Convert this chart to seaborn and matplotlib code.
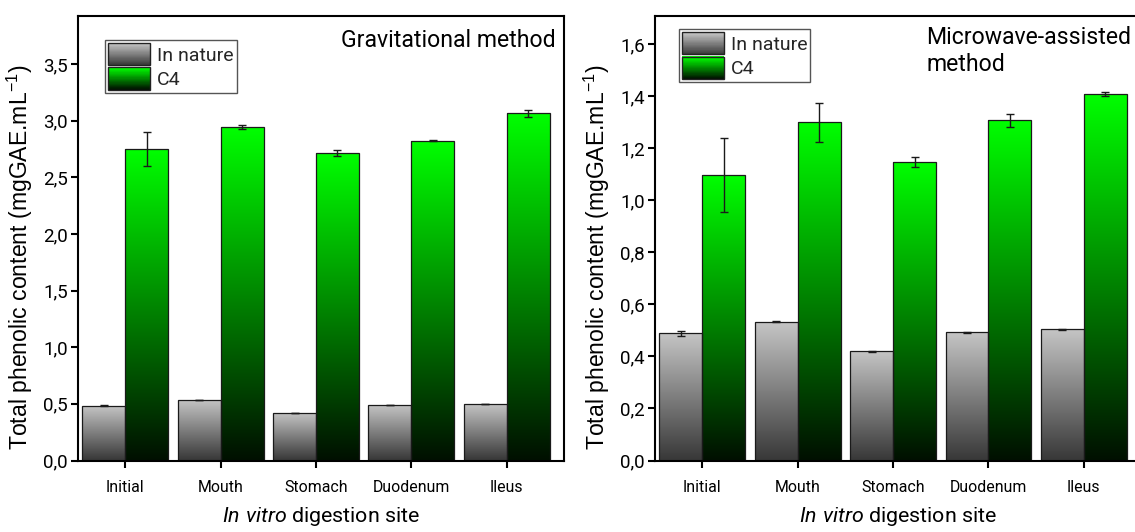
import numpy as np
import pandas as pd
import matplotlib
matplotlib.use("Agg")
import matplotlib.pyplot as plt
import seaborn as sns
from matplotlib.colors import LinearSegmentedColormap
from matplotlib.legend_handler import HandlerBase
from matplotlib.patches import Rectangle, Patch
from matplotlib.container import BarContainer
from matplotlib.ticker import FuncFormatter, MultipleLocator

# ---------------- data ----------------
sites = ["Initial", "Mouth", "Stomach", "Duodenum", "Ileus"]
groups = ["In nature", "C4"]

grav_nature = [0.485, 0.530, 0.419, 0.494, 0.500]
grav_nature_err = [0.006, 0.0, 0.0, 0.0, 0.0]
grav_c4 = [2.750, 2.945, 2.714, 2.822, 3.064]
grav_c4_err = [0.150, 0.020, 0.030, 0.006, 0.030]

mw_nature = [0.489, 0.533, 0.419, 0.493, 0.505]
mw_nature_err = [0.010, 0.002, 0.003, 0.002, 0.002]
mw_c4 = [1.098, 1.299, 1.147, 1.308, 1.410]
mw_c4_err = [0.143, 0.074, 0.020, 0.025, 0.008]

# ---------------- style ----------------
sns.set_theme(style="ticks")
NARROW = ["Roboto", "Liberation Sans", "DejaVu Sans"]
REGULAR = ["Liberation Sans", "DejaVu Sans"]
plt.rcParams["font.family"] = NARROW
plt.rcParams["mathtext.fontset"] = "custom"
plt.rcParams["mathtext.rm"] = "Liberation Sans"
plt.rcParams["mathtext.it"] = "Roboto:italic"
plt.rcParams["axes.linewidth"] = 1.5

cmap_gray = LinearSegmentedColormap.from_list("g", ["#383838", "#c6c6c6"])
cmap_green = LinearSegmentedColormap.from_list("gr", ["#001000", "#00ff00"])
CMAPS = [cmap_gray, cmap_green]


class GradHandler(HandlerBase):
    def __init__(self, cmap):
        super().__init__()
        self.cmap = cmap

    def create_artists(self, legend, orig_handle, xdescent, ydescent,
                       width, height, fontsize, trans):
        n = 40
        arts = []
        for i in range(n):
            r = Rectangle((-xdescent, -ydescent + height * i / n), width,
                          height / n + 0.3, facecolor=self.cmap(i / (n - 1)),
                          edgecolor="none", transform=trans)
            arts.append(r)
        arts.append(Rectangle((-xdescent, -ydescent), width, height,
                              facecolor="none", edgecolor="#222222",
                              linewidth=1.0, transform=trans))
        return arts


def fmt(v, p):
    return f"{v:.1f}".replace(".", ",")


def panel(ax, nature, nerr, c4, cerr, ymax, ystep, title, tx, ty, ha, leg_xy):
    df = pd.DataFrame({
        "site": sites * 2,
        "group": [groups[0]] * len(sites) + [groups[1]] * len(sites),
        "value": nature + c4,
    })
    sns.barplot(data=df, x="site", y="value", hue="group", order=sites,
                hue_order=groups, width=0.9, errorbar=None,
                palette=["#888888", "#00aa00"], edgecolor="#1a1a1a",
                linewidth=0.9, legend=False, ax=ax)
    errs = [nerr, cerr]
    vals = [nature, c4]
    bar_conts = [c for c in ax.containers if isinstance(c, BarContainer)]
    for gi, cont in enumerate(bar_conts):
        centers = []
        for p in cont.patches:
            x0, y0 = p.get_x(), p.get_y()
            w, h = p.get_width(), p.get_height()
            grad = np.linspace(0, 1, 256).reshape(-1, 1)
            im = ax.imshow(grad, cmap=CMAPS[gi], origin="lower", aspect="auto",
                           extent=[x0, x0 + w, y0, y0 + h], zorder=1,
                           interpolation="bilinear")
            im.set_clip_path(p)
            p.set_facecolor("none")
            p.set_zorder(2)
            centers.append(x0 + w / 2)
        ax.errorbar(centers, vals[gi], yerr=errs[gi], fmt="none",
                    ecolor="#1a1a1a", elinewidth=1.0, capsize=2.8,
                    capthick=1.0, zorder=5)
    ax.set_xlim(-0.5, 4.6)
    ax.set_ylim(0, ymax)
    ax.yaxis.set_major_locator(MultipleLocator(ystep))
    ax.yaxis.set_major_formatter(FuncFormatter(fmt))
    for s in ax.spines.values():
        s.set_visible(True)
        s.set_linewidth(1.5)
        s.set_color("black")
    ax.tick_params(axis="both", direction="out", length=5, width=1.5,
                   colors="black")
    ax.tick_params(axis="y", labelsize=13.5, pad=2)
    ax.tick_params(axis="x", labelsize=11.4, pad=9)
    ax.set_ylabel("Total phenolic content (mgGAE.mL$^{-1}$)", fontsize=16.6,
                  family=REGULAR, color="black")
    ax.yaxis.set_label_coords(-0.087, 0.457)
    ax.set_xlabel("$\\mathit{In\\ vitro}$ digestion site", fontsize=15.4,
                  color="black")
    ax.xaxis.set_label_coords(0.5, -0.1)
    ax.text(tx, ty, title, transform=ax.transAxes, ha=ha, va="top",
            fontsize=16.6, linespacing=1.2, color="black")
    handles = [Patch(label=g) for g in groups]
    leg = ax.legend(handles=handles, labels=groups,
                    handler_map={handles[0]: GradHandler(cmap_gray),
                                 handles[1]: GradHandler(cmap_green)},
                    loc="upper left", bbox_to_anchor=leg_xy, borderaxespad=0,
                    fontsize=14, handlelength=2.15, handleheight=1.38,
                    labelspacing=0.12, handletextpad=0.35, borderpad=0.16,
                    fancybox=False, frameon=True, edgecolor="#555555")
    leg.get_frame().set_linewidth(1.0)
    leg.get_frame().set_alpha(1)


fig = plt.figure(figsize=(11.35, 5.32), dpi=100)
H = 532.0
W = 1135.0
bottom = (H - 460.5) / H
height = (460.5 - 16.3) / H
ax1 = fig.add_axes([77.5 / W, bottom, (564 - 77.5) / W, height])
ax2 = fig.add_axes([654.7 / W, bottom, (1141 - 654.7) / W, height])

panel(ax1, grav_nature, grav_nature_err, grav_c4, grav_c4_err, 3.92, 0.5,
      "Gravitational method", 0.983, 0.972, "right", (0.057, 0.947))
panel(ax2, mw_nature, mw_nature_err, mw_c4, mw_c4_err, 1.707, 0.2,
      "Microwave-assisted\nmethod", 0.558, 0.978, "left", (0.05, 0.971))

fig.savefig("out.png", dpi=100)
